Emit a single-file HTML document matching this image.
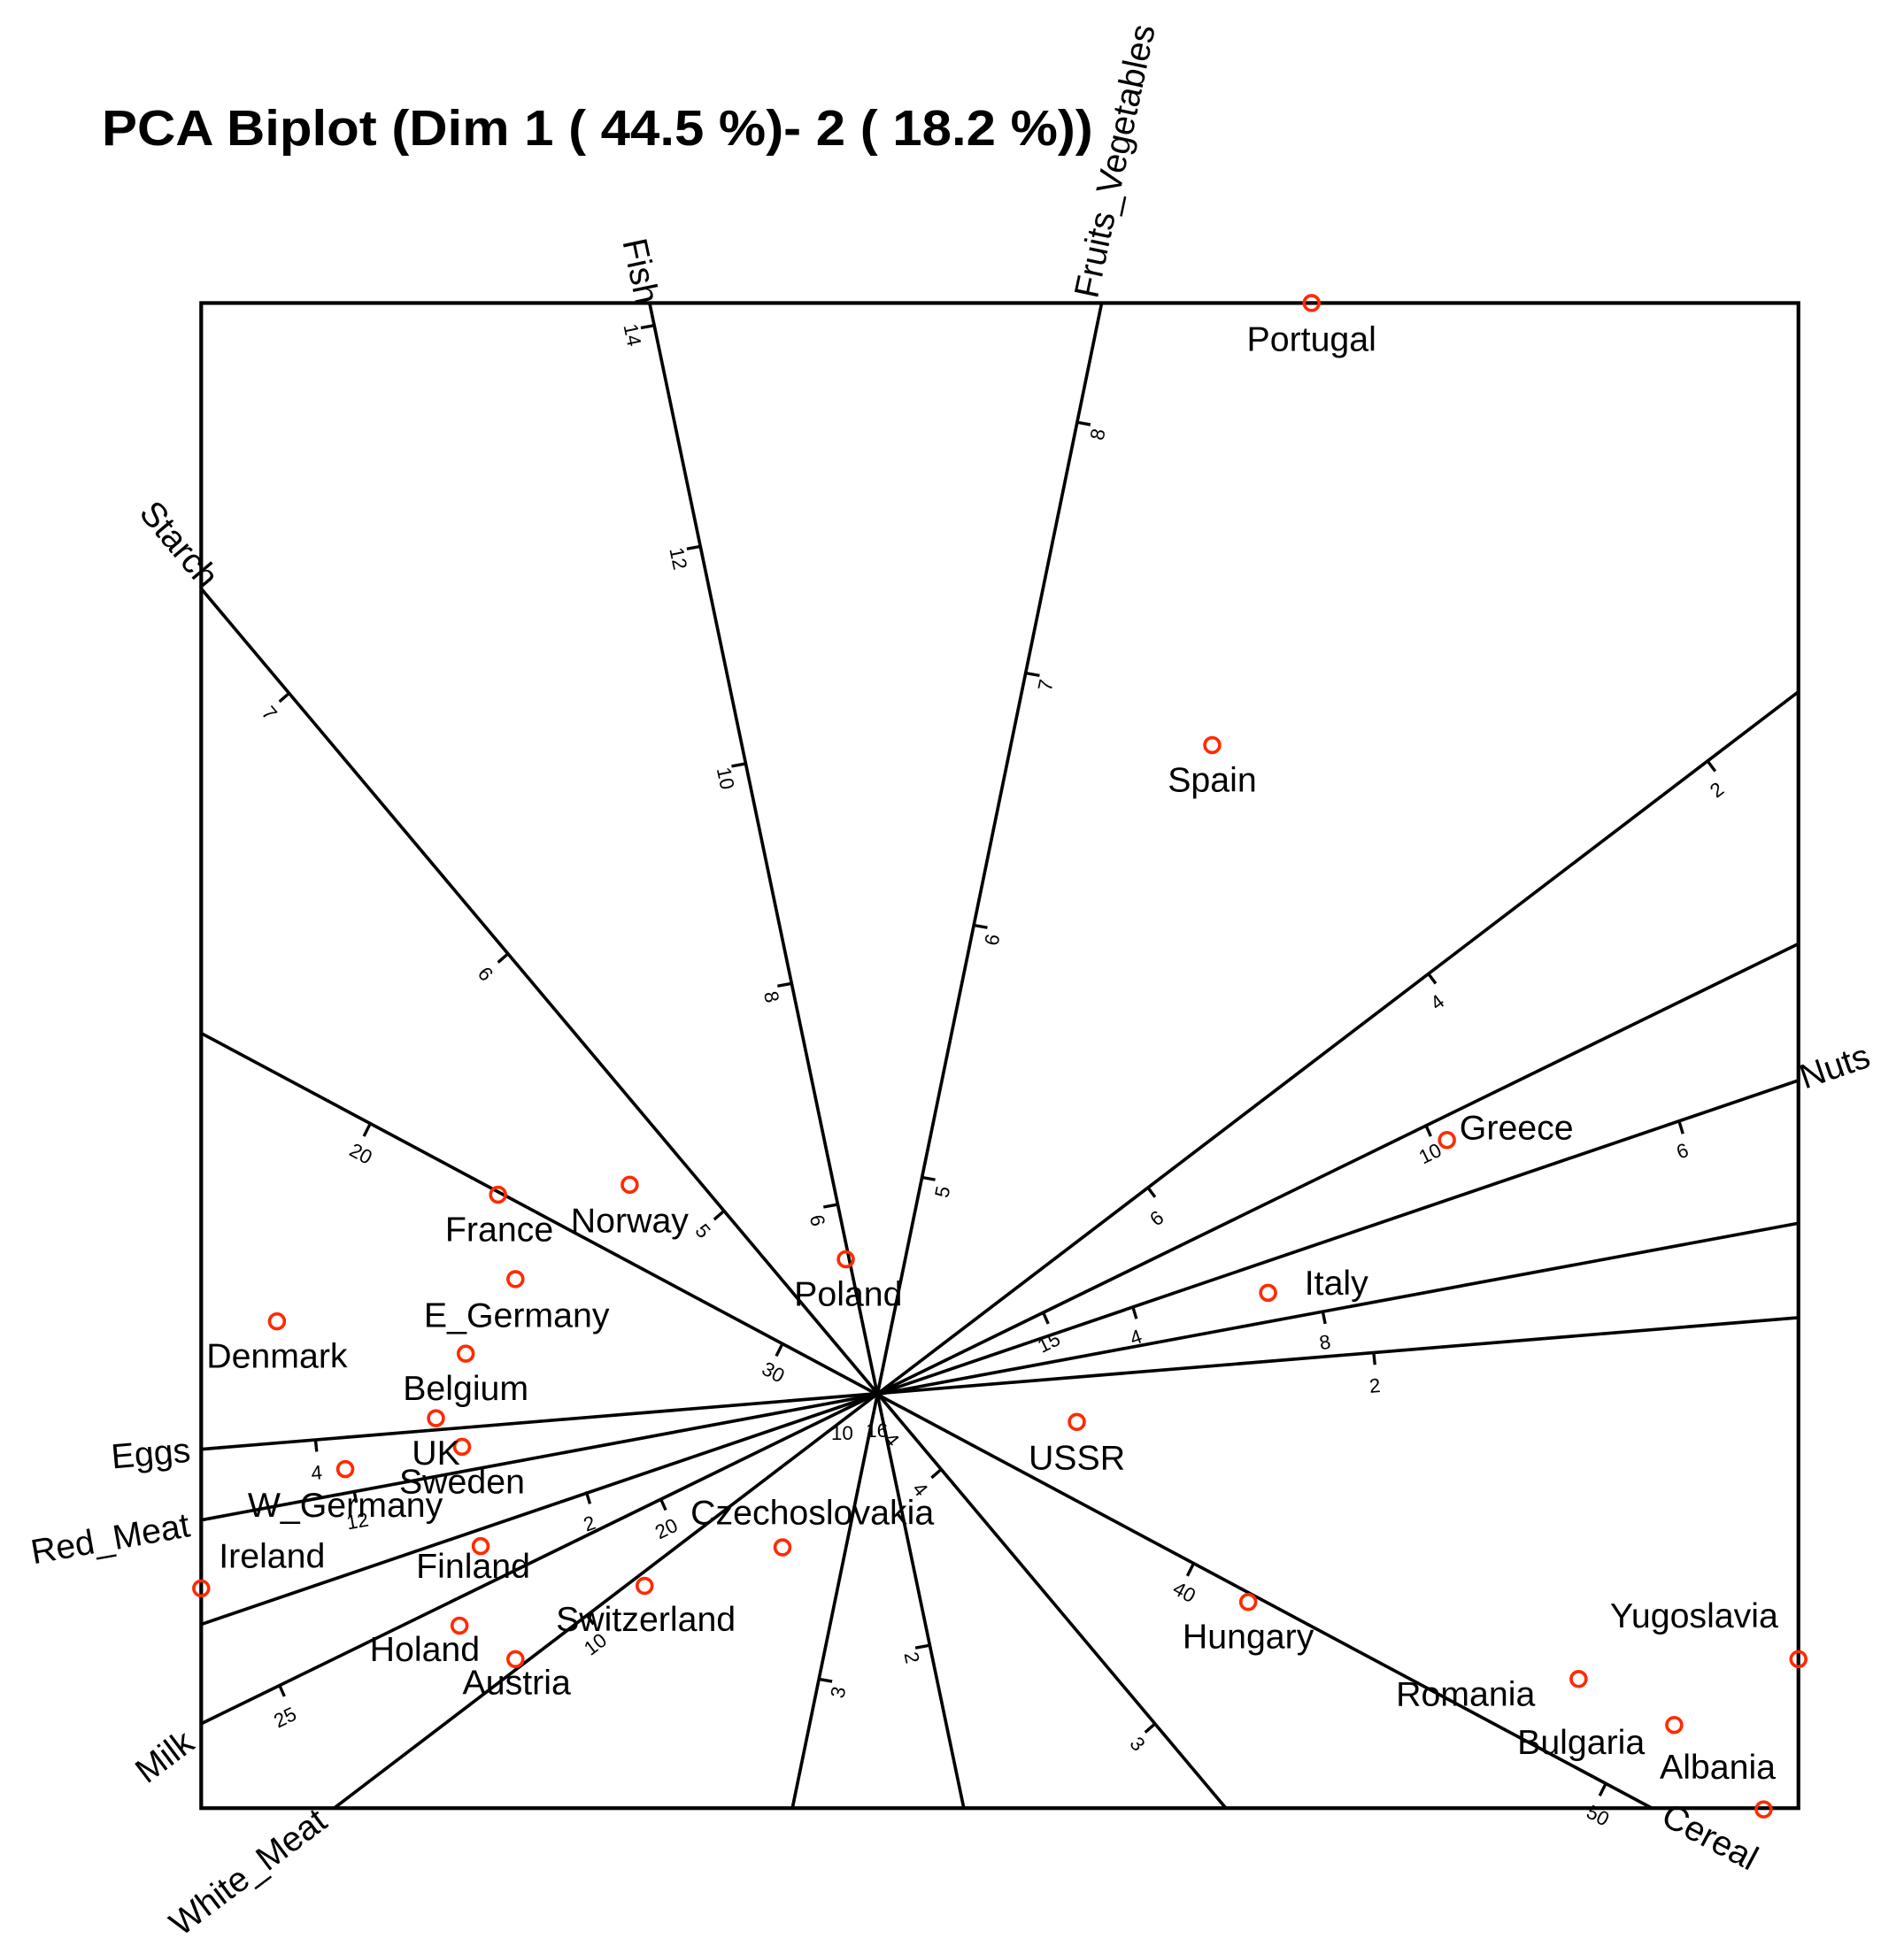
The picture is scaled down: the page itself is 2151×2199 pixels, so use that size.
<!DOCTYPE html>
<html><head><meta charset="utf-8"><style>
html,body{margin:0;padding:0;background:#fff;}
svg{display:block;}
text{font-family:"Liberation Sans",Arial,sans-serif;}
</style></head><body>
<svg width="2151" height="2199" viewBox="0 0 1533 1567" preserveAspectRatio="none" xmlns="http://www.w3.org/2000/svg">
<text x="82" y="117" font-size="40" font-weight="bold" textLength="798" lengthAdjust="spacingAndGlyphs">PCA Biplot (Dim 1 ( 44.5 %)- 2 ( 18.2 %))</text>
<rect x="162" y="244" width="1286" height="1212" fill="none" stroke="#000" stroke-width="3"/>
<g stroke="#000" stroke-width="2.6">
<line x1="523" y1="244" x2="776" y2="1456"/>
<line x1="887" y1="244" x2="638" y2="1456"/>
<line x1="162" y1="474" x2="987" y2="1456"/>
<line x1="162" y1="832" x2="1330" y2="1456"/>
<line x1="1448" y1="557" x2="269" y2="1456"/>
<line x1="1448" y1="760" x2="162" y2="1388"/>
<line x1="1448" y1="870" x2="162" y2="1308"/>
<line x1="1448" y1="985" x2="162" y2="1224"/>
<line x1="1448" y1="1061" x2="162" y2="1167"/>
</g>
<g stroke="#000" stroke-width="2.4">
<line x1="527" y1="262" x2="516" y2="264"/><line x1="564" y1="440" x2="553" y2="442"/><line x1="600" y1="615" x2="589" y2="617"/><line x1="637" y1="792" x2="626" y2="794"/><line x1="674" y1="970" x2="663" y2="972"/><line x1="748" y1="1325" x2="737" y2="1327"/>
<line x1="867" y1="340" x2="878" y2="342"/><line x1="826" y1="542" x2="837" y2="544"/><line x1="784" y1="745" x2="795" y2="747"/><line x1="742" y1="948" x2="753" y2="950"/><line x1="659" y1="1352" x2="670" y2="1354"/>
<line x1="233" y1="558" x2="225" y2="565"/><line x1="409" y1="768" x2="401" y2="775"/><line x1="583" y1="975" x2="575" y2="982"/><line x1="758" y1="1183" x2="750" y2="1190"/><line x1="930" y1="1388" x2="922" y2="1395"/>
<line x1="298" y1="905" x2="293" y2="915"/><line x1="630" y1="1082" x2="625" y2="1092"/><line x1="961" y1="1259" x2="956" y2="1269"/><line x1="1293" y1="1436" x2="1288" y2="1446"/>
<line x1="1148" y1="906" x2="1152" y2="915"/><line x1="840" y1="1057" x2="844" y2="1066"/><line x1="532" y1="1207" x2="536" y2="1216"/><line x1="225" y1="1357" x2="229" y2="1366"/>
<line x1="1375" y1="613" x2="1381" y2="621"/><line x1="1150" y1="784" x2="1156" y2="792"/><line x1="924" y1="956" x2="930" y2="964"/><line x1="472" y1="1300" x2="478" y2="1308"/>
<line x1="1352" y1="903" x2="1355" y2="913"/><line x1="912" y1="1052" x2="915" y2="1062"/><line x1="472" y1="1201" x2="475" y2="1211"/>
<line x1="1065" y1="1056" x2="1067" y2="1066"/><line x1="285" y1="1200" x2="287" y2="1210"/>
<line x1="1106" y1="1089" x2="1107" y2="1099"/><line x1="254" y1="1159" x2="255" y2="1169"/>
</g>
<g font-size="16" text-anchor="middle" dominant-baseline="middle">
<text transform="translate(508,270) rotate(78)">14</text><text transform="translate(545,450) rotate(78)">12</text><text transform="translate(583,627) rotate(78)">10</text><text transform="translate(620,803) rotate(78)">8</text><text transform="translate(657,983) rotate(78)">6</text><text transform="translate(733,1335) rotate(78)">2</text>
<text transform="translate(885,350) rotate(-78)">8</text><text transform="translate(843,552) rotate(-78)">7</text><text transform="translate(800,757) rotate(-78)">6</text><text transform="translate(760,960) rotate(-78)">5</text><text transform="translate(676,1363) rotate(-78)">3</text>
<text transform="translate(216,575) rotate(50)">7</text><text transform="translate(390,785) rotate(50)">6</text><text transform="translate(565,992) rotate(50)">5</text><text transform="translate(740,1200) rotate(50)">4</text><text transform="translate(915,1405) rotate(50)">3</text>
<text transform="translate(290,930) rotate(28)">20</text><text transform="translate(622,1106) rotate(28)">30</text><text transform="translate(953,1283) rotate(28)">40</text><text transform="translate(1286,1463) rotate(28)">50</text>
<text transform="translate(1152,930) rotate(-26)">10</text><text transform="translate(845,1082) rotate(-26)">15</text><text transform="translate(537,1232) rotate(-26)">20</text><text transform="translate(230,1384) rotate(-26)">25</text>
<text transform="translate(1383,637) rotate(-37)">2</text><text transform="translate(1158,808) rotate(-37)">4</text><text transform="translate(932,982) rotate(-37)">6</text><text transform="translate(480,1325) rotate(-37)">10</text>
<text transform="translate(1355,928) rotate(-19)">6</text><text transform="translate(915,1078) rotate(-19)">4</text><text transform="translate(475,1228) rotate(-19)">2</text>
<text transform="translate(1067,1082) rotate(-10)">8</text><text transform="translate(288,1226) rotate(-10)">12</text>
<text transform="translate(1107,1117) rotate(-5)">2</text><text transform="translate(255,1187) rotate(-5)">4</text>
<text transform="translate(678,1155)">10</text><text transform="translate(706,1153)">16</text><text transform="translate(717,1160) rotate(50)">4</text>
</g>
<g font-size="28">
<text transform="translate(522,244) rotate(78)" text-anchor="end" dy="10">Fish</text>
<text transform="translate(887,244) rotate(-78)" text-anchor="start" dy="-4" dx="2">Fruits_Vegetables</text>
<text transform="translate(160,478) rotate(50)" text-anchor="end" dy="-4">Starch</text>
<text transform="translate(1453,877) rotate(-19)" text-anchor="start">Nuts</text>
<text transform="translate(154,1177) rotate(-5)" text-anchor="end">Eggs</text>
<text transform="translate(154,1237) rotate(-10)" text-anchor="end">Red_Meat</text>
<text transform="translate(158,1407) rotate(-37)" text-anchor="end">Milk</text>
<text transform="translate(265,1470) rotate(-37)" text-anchor="end">White_Meat</text>
<text transform="translate(1336,1468) rotate(28)" text-anchor="start">Cereal</text>
</g>
<g fill="none" stroke="#ff2a00" stroke-width="2.6">
<circle cx="1056" cy="244" r="6"/><circle cx="976" cy="600" r="6"/><circle cx="1165" cy="918" r="6"/><circle cx="1021" cy="1041" r="6"/><circle cx="867" cy="1145" r="6"/><circle cx="681" cy="1014" r="6"/><circle cx="507" cy="954" r="6"/><circle cx="401" cy="962" r="6"/><circle cx="415" cy="1030" r="6"/><circle cx="223" cy="1064" r="6"/><circle cx="375" cy="1090" r="6"/><circle cx="351" cy="1142" r="6"/><circle cx="372" cy="1165" r="6"/><circle cx="278" cy="1183" r="6"/><circle cx="162" cy="1279" r="6"/><circle cx="387" cy="1245" r="6"/><circle cx="370" cy="1309" r="6"/><circle cx="415" cy="1336" r="6"/><circle cx="519" cy="1277" r="6"/><circle cx="630" cy="1246" r="6"/><circle cx="1005" cy="1290" r="6"/><circle cx="1271" cy="1352" r="6"/><circle cx="1448" cy="1336" r="6"/><circle cx="1348" cy="1389" r="6"/><circle cx="1420" cy="1457" r="6"/>
</g>
<g font-size="28" text-anchor="middle" dominant-baseline="middle">
<text x="1056" y="275">Portugal</text><text x="976" y="630">Spain</text><text x="1221" y="910">Greece</text><text x="1076" y="1035">Italy</text><text x="867" y="1176">USSR</text><text x="683" y="1044">Poland</text><text x="507" y="985">Norway</text><text x="402" y="992">France</text><text x="416" y="1061">E_Germany</text><text x="223" y="1094">Denmark</text><text x="375" y="1120">Belgium</text><text x="351" y="1172">UK</text><text x="372" y="1195">Sweden</text><text x="278" y="1214">W_Germany</text><text x="219" y="1255">Ireland</text><text x="381" y="1263">Finland</text><text x="342" y="1330">Holand</text><text x="416" y="1357">Austria</text><text x="520" y="1306">Switzerland</text><text x="654" y="1220">Czechoslovakia</text><text x="1005" y="1320">Hungary</text><text x="1180" y="1366">Romania</text><text x="1364" y="1303">Yugoslavia</text><text x="1273" y="1405">Bulgaria</text><text x="1383" y="1425">Albania</text>
</g>
</svg>
</body></html>
